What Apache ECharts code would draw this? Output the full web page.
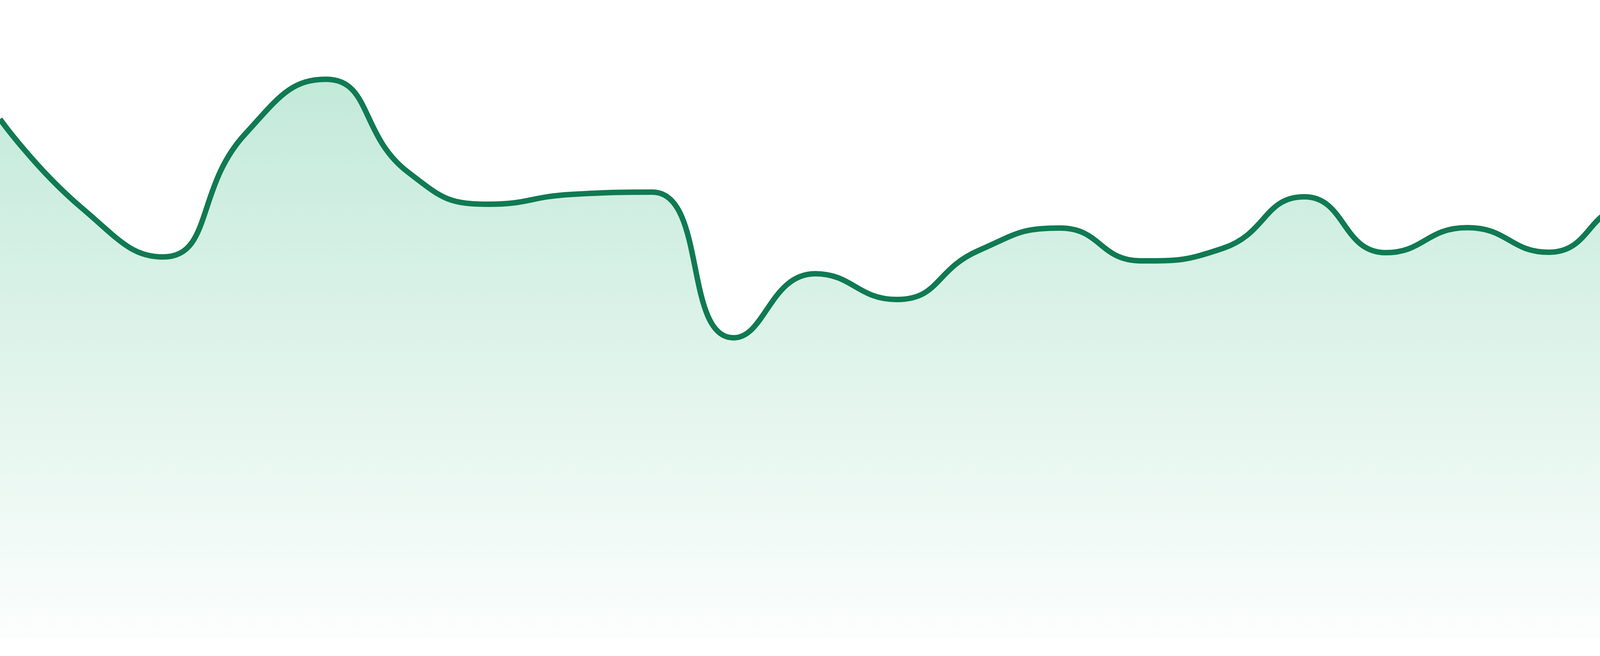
<!DOCTYPE html>
<html>
<head>
<meta charset="utf-8">
<script src="https://cdn.jsdelivr.net/npm/echarts@6/dist/echarts.min.js"></script>
<style>
html, body { margin: 0; padding: 0; background: #ffffff; overflow: hidden; }
#chart { width: 4800px; height: 1680px; }
</style>
</head>
<body>
<div id="chart"></div>
<script>
var categories = ['1','2','3','4','5','6','7','8','9','10','11','12','13','14','15','16','17','18','19','20','21','22','23','24'];
var values = [1330, 1103, 977, 1290, 1432, 1195, 1112, 1137, 1143, 770, 934, 868, 993, 1051, 967, 999, 1131, 988, 1052, 989, 1106, 1064, 1057, 993];
var yMin = 0;
var yMax = 1635;

var chart = echarts.init(document.getElementById('chart'), null, { renderer: 'canvas' });
chart.setOption({
  animation: false,
  backgroundColor: '#ffffff',
  grid: { left: 0, right: 0, top: 0, bottom: 45, containLabel: false },
  xAxis: {
    type: 'category',
    data: categories,
    boundaryGap: false,
    show: false
  },
  yAxis: {
    type: 'value',
    min: yMin,
    max: yMax,
    show: false
  },
  series: [{
    type: 'line',
    data: values,
    smooth: true,
    showSymbol: false,
    symbol: 'none',
    lineStyle: { color: '#107a52', width: 14 },
    areaStyle: {
      color: new echarts.graphic.LinearGradient(0, 0, 0, 1, [
        { offset: 0, color: 'rgba(16,170,105,0.36)' },
        { offset: 1, color: 'rgba(16,170,105,0.02)' }
      ])
    }
  }]
});
</script>
</body>
</html>
